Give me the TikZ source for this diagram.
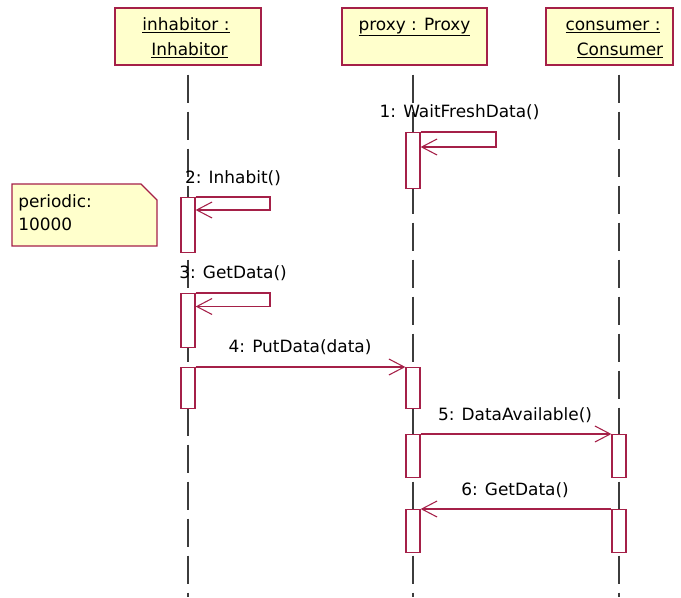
\documentclass[tikz,border=0pt]{standalone}
\usepackage{fontspec}
\setmainfont{DejaVu Sans}
\usetikzlibrary{arrows.meta,positioning}

\definecolor{umlred}{RGB}{165,32,72}
\definecolor{notefill}{RGB}{255,255,204}
\definecolor{lifegray}{RGB}{60,60,60}

\tikzset{
  head/.style={draw=umlred,fill=notefill,line width=1pt,minimum height=42.75pt,inner sep=0pt},
  headtxt/.style={anchor=base,inner sep=0pt,text=black},
  act/.style={draw=umlred,fill=white,line width=0.9pt,minimum width=10.5pt,inner sep=0pt,anchor=north},
  msg/.style={draw=umlred,line width=0.8pt,-{Straight Barb[length=11.5pt,width=12pt,line width=0.8pt]}},
  msgtxt/.style={anchor=base,inner sep=0pt,text=black},
  life/.style={draw=lifegray,line width=1pt,dash pattern=on 21pt off 6.75pt,shorten <=6.75pt}
}

\begin{document}
\begin{tikzpicture}[x=0.75pt,y=-0.75pt,font=\fontsize{12.7}{17.5}\selectfont]
\useasboundingbox (0,0) rectangle (681,597);

%headers
\node[head,minimum width=109.5pt] (inh) at (188,36.5) {};
\node[head,minimum width=108.75pt] (prx) at (414.5,36.5) {};
\node[head,minimum width=95.25pt] (con) at (609.5,36.5) {};
\node[headtxt] (inht) at (186,30) {\underline{inhabitor :}};
\node[headtxt] (inhb) at (189.5,55) {\underline{Inhabitor}};
\node[headtxt] (prxt) at (414.5,30) {\underline{proxy : Proxy}};
\node[headtxt] (cont) at (613,30) {\underline{consumer :}};
\node[headtxt] (conb) at (620,55) {\underline{Consumer}};

%lifelines
\coordinate (inhend) at (188,597);
\coordinate (prxend) at (413,597);
\coordinate (conend) at (619,597);
\path[life] (inh.south) -- (inhend);
\path[life] (prx.south -| prxend) -- (prxend);
\path[life] (con.south -| conend) -- (conend);

%note
\path[draw=umlred,fill=notefill,line width=1pt] (12,184) -- (141,184) -- (157,200) -- (157,246) -- (12,246) -- cycle;
\node[anchor=north west,inner sep=0pt,align=left] (per) at (18,194) {periodic:\\10000};

%1
\node[act,minimum height=42pt] (p1) at (413,132) {};
\coordinate (l1) at (496,147);
\path[msg] (p1.north east) -| (l1) -- (l1 -| p1.east);
\node[msgtxt] (m1) at (459.5,117) {1: WaitFreshData()};

%2
\node[act,minimum height=41.25pt] (h2) at (188,197) {};
\coordinate (l2) at (270,210);
\path[msg] (h2.north east) -| (l2) -- (l2 -| h2.east);
\node[msgtxt] (m2) at (233,183) {2: Inhabit()};

%3
\node[act,minimum height=40.5pt] (h3) at (188,293) {};
\coordinate (l3) at (270,306.5);
\path[msg] (h3.north east) -| (l3) -- (l3 -| h3.east);
\node[msgtxt] (m3) at (233,278) {3: GetData()};

%4
\node[act,minimum height=30.75pt] (h4) at (188,367) {};
\node[act,minimum height=30.75pt] (p4) at (413,367) {};
\path[msg] (h4.north east) -- (p4.north west);
\node[msgtxt] (m4) at (300,352) {4: PutData(data)};

%5
\node[act,minimum height=32.25pt] (p5) at (413,434) {};
\node[act,minimum height=32.25pt] (c5) at (619,434) {};
\path[msg] (p5.north east) -- (c5.north west);
\node[msgtxt] (m5) at (515,420) {5: DataAvailable()};

%6
\node[act,minimum height=32.25pt] (p6) at (413,509) {};
\node[act,minimum height=32.25pt] (c6) at (619,509) {};
\path[msg] (c6.north west) -- (p6.north east);
\node[msgtxt] (m6) at (515,495) {6: GetData()};

\end{tikzpicture}
\end{document}
